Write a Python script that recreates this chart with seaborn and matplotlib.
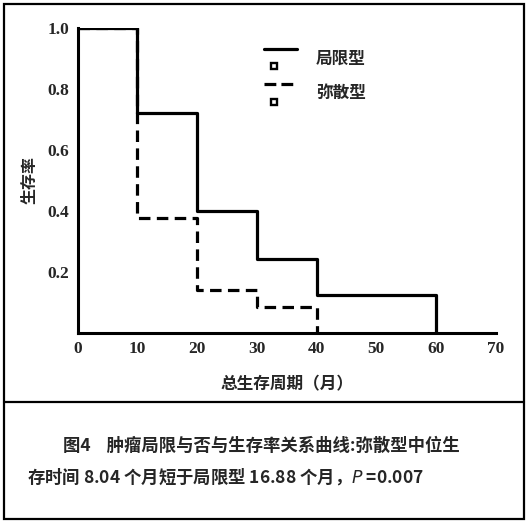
import matplotlib
matplotlib.use("Agg")
import matplotlib.pyplot as plt
import pandas as pd
import seaborn as sb
from matplotlib.lines import Line2D
from matplotlib.patches import Rectangle
from matplotlib.legend_handler import HandlerBase

# data
local_t = [0, 10, 20, 30, 40, 60]
local_s = [1.0, 0.72, 0.40, 0.24, 0.125, 0.0]
diffuse_t = [0, 10, 20, 30, 40]
diffuse_s = [1.0, 0.375, 0.14, 0.085, 0.0]
groups = ['局限型', '弥散型']
x_ticks = [0, 10, 20, 30, 40, 50, 60, 70]
y_ticks = [0.2, 0.4, 0.6, 0.8, 1.0]
y_labels = ['0.2', '0.4', '0.6', '0.8', '1.0']

sb.set_style("white")
plt.rcParams['font.family'] = ['Noto Sans CJK SC', 'DejaVu Sans']

df = pd.concat([
    pd.DataFrame({'t': diffuse_t, 's': diffuse_s, 'g': groups[1]}),
    pd.DataFrame({'t': local_t, 's': local_s, 'g': groups[0]}),
])

DASH = (3.6, 2.0)

fig = plt.figure(figsize=(5.29, 5.23), dpi=100)
ax = fig.add_axes([0.147, 0.364, 0.79, 0.583])

sb.lineplot(data=df, x='t', y='s', hue='g', style='g',
            palette={groups[0]: 'black', groups[1]: 'black'},
            dashes={groups[0]: '', groups[1]: DASH},
            estimator=None, sort=False, drawstyle='steps-post',
            linewidth=2.3, legend=False, ax=ax)

ax.set_xlim(0, 70)
ax.set_ylim(0, 1.0)
ax.set_xticks(x_ticks)
ax.set_yticks(y_ticks)
ax.set_yticklabels(y_labels)
for lab in ax.get_xticklabels() + ax.get_yticklabels():
    lab.set_fontfamily('Liberation Serif')
    lab.set_fontweight('bold')
    lab.set_fontsize(12.5)
ax.tick_params(direction='in', length=3, width=1.5, pad=6)
for side in ['top', 'right']:
    ax.spines[side].set_visible(False)
for side in ['left', 'bottom']:
    ax.spines[side].set_linewidth(2.2)
    ax.spines[side].set_color('black')

ax.set_xlabel('总生存周期（月）', fontsize=12, fontweight='bold', labelpad=13)
ax.set_ylabel('生存率', fontsize=11.5, fontweight='bold', labelpad=7)


class LineSquare(HandlerBase):
    def create_artists(self, legend, orig, xd, yd, w, h, fontsize, trans):
        ln = Line2D([-xd, -xd + w], [-yd + h, -yd + h], color='black',
                    lw=2.3, linestyle=orig.get_linestyle())
        mk = Line2D([-xd + w * 0.3], [-yd], marker='s', ms=5,
                    mfc='white', mec='black', mew=1.7, linestyle='none')
        ln.set_transform(trans)
        mk.set_transform(trans)
        return [ln, mk]


handles = [Line2D([], [], color='black', lw=2.3),
           Line2D([], [], color='black', lw=2.3, linestyle=(0, DASH))]
leg = ax.legend(handles, groups, handler_map={Line2D: LineSquare()},
                loc='upper left', bbox_to_anchor=(0.41, 0.98), frameon=False,
                handlelength=2.0, handleheight=1.25, labelspacing=1.0,
                handletextpad=1.1, prop={'size': 12, 'weight': 'bold'})

# caption
fig.text(63 / 529, 1 - 446 / 523, '图4    肿瘤局限与否与生存率关系曲线:弥散型中位生',
         fontsize=12.5, fontweight='bold', va='center', ha='left')
fig.text(27 / 529, 1 - 477 / 523, '存时间 8.04 个月短于局限型 16.88 个月，$P$ =0.007',
         fontsize=12.5, fontweight='bold', va='center', ha='left')

# frames
fig.add_artist(Rectangle((4 / 529, 4 / 523), 520 / 529, 515 / 523,
                         transform=fig.transFigure, fill=False,
                         edgecolor='black', lw=1.6))
fig.add_artist(Line2D([4 / 529, 524 / 529], [1 - 402 / 523, 1 - 402 / 523],
                      transform=fig.transFigure, color='black', lw=1.6))

fig.savefig('out.png', dpi=100)
